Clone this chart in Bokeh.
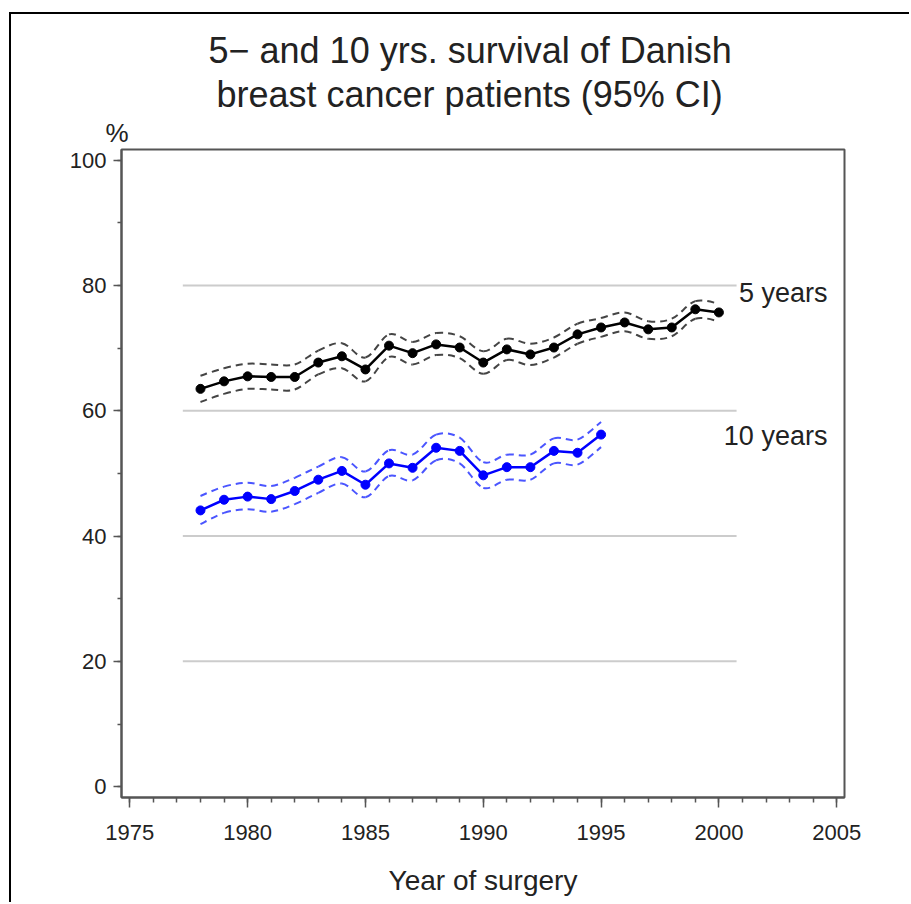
from bokeh.plotting import figure
from bokeh.models import Range1d, Label, FixedTicker, Title, ColumnDataSource
from bokeh.embed import file_html
from bokeh.resources import INLINE

FONT = "Liberation Sans"

# ---- data ----
years5 = list(range(1978, 2001))
surv5 = [63.5, 64.7, 65.5, 65.4, 65.4, 67.7, 68.7, 66.6, 70.4, 69.2, 70.6, 70.1,
         67.7, 69.8, 69.0, 70.1, 72.2, 73.3, 74.1, 73.0, 73.3, 76.2, 75.7]
upper5 = [65.6, 66.8, 67.5, 67.4, 67.4, 69.6, 70.8, 68.5, 72.2, 71.0, 72.4, 71.9,
          69.5, 71.5, 70.7, 71.7, 73.9, 74.8, 75.7, 74.3, 74.7, 77.5, 77.1]
lower5 = [61.4, 62.7, 63.5, 63.4, 63.4, 65.8, 66.8, 64.7, 68.6, 67.4, 68.9, 68.4,
          65.9, 68.1, 67.3, 68.5, 70.7, 71.8, 72.7, 71.5, 71.9, 74.7, 74.3]

years10 = list(range(1978, 1996))
surv10 = [44.1, 45.8, 46.3, 45.9, 47.2, 49.0, 50.4, 48.2, 51.6, 50.9, 54.1, 53.6,
          49.7, 51.0, 51.0, 53.6, 53.3, 56.2]
upper10 = [46.4, 47.9, 48.5, 48.0, 49.3, 51.1, 52.6, 50.3, 53.7, 53.0, 56.2, 55.7,
           51.8, 53.0, 53.0, 55.6, 55.4, 58.2]
lower10 = [41.9, 43.7, 44.3, 43.9, 45.1, 46.9, 48.4, 46.2, 49.6, 48.9, 52.1, 51.6,
           47.7, 49.0, 49.0, 51.6, 51.4, 54.2]

ref_levels = [20, 40, 60, 80]
ref_start = 1977.25
ref_end = 2000.75

x_ticks = [1975, 1980, 1985, 1990, 1995, 2000, 2005]
y_ticks = [0, 20, 40, 60, 80, 100]

title_lines = ["5\u2212 and 10 yrs. survival of Danish", "breast cancer patients (95% CI)"]
series_labels = ["5 years", "10 years"]


def smooth_segments(xs, ys):
    """Catmull-Rom curve through the points, as cubic Bezier segments."""
    n = len(xs)
    x0, y0, x1, y1, cx0, cy0, cx1, cy1 = ([] for _ in range(8))
    for i in range(n - 1):
        im, ip = max(i - 1, 0), min(i + 2, n - 1)
        x0.append(xs[i]); y0.append(ys[i])
        x1.append(xs[i + 1]); y1.append(ys[i + 1])
        cx0.append(xs[i] + (xs[i + 1] - xs[im]) / 6)
        cy0.append(ys[i] + (ys[i + 1] - ys[im]) / 6)
        cx1.append(xs[i + 1] - (xs[ip] - xs[i]) / 6)
        cy1.append(ys[i + 1] - (ys[ip] - ys[i]) / 6)
    return ColumnDataSource(dict(x0=x0, y0=y0, x1=x1, y1=y1,
                                 cx0=cx0, cy0=cy0, cx1=cx1, cy1=cy1))


# ---- figure ----
p = figure(width=900, height=890, output_backend="svg", toolbar_location=None,
           x_range=Range1d(1974.648, 2005.33), y_range=Range1d(-1.73, 101.71),
           min_border_left=110, min_border_top=135, min_border_right=67,
           min_border_bottom=107)
p.styles = {"margin-left": "9px", "margin-top": "12px",
            "border-left": "2px solid black", "border-top": "2px solid black"}
p.title.visible = False

p.xgrid.visible = False
p.ygrid.visible = False
p.outline_line_color = "#555555"
p.outline_line_width = 2

# reference lines
p.segment(x0=[ref_start] * len(ref_levels), x1=[ref_end] * len(ref_levels),
          y0=ref_levels, y1=ref_levels, line_color="#cccccc", line_width=2)

# 5-year
for band in (upper5, lower5):
    p.bezier("x0", "y0", "x1", "y1", "cx0", "cy0", "cx1", "cy1",
             source=smooth_segments(years5, band),
             line_color="#444444", line_width=2, line_dash="7 5")
p.line(years5, surv5, line_color="black", line_width=2.5)
p.scatter(years5, surv5, size=9, color="black")

# 10-year
for band in (upper10, lower10):
    p.bezier("x0", "y0", "x1", "y1", "cx0", "cy0", "cx1", "cy1",
             source=smooth_segments(years10, band),
             line_color="#4a55ff", line_width=2, line_dash="7 5")
p.line(years10, surv10, line_color="#0000ff", line_width=2.5)
p.scatter(years10, surv10, size=9, color="#0000ff")

# axes
for ax in (p.xaxis[0], p.yaxis[0]):
    ax.axis_line_color = "#555555"
    ax.axis_line_width = 2
    ax.major_tick_line_color = "#555555"
    ax.minor_tick_line_color = "#555555"
    ax.major_tick_line_width = 1.5
    ax.minor_tick_line_width = 1.5
    ax.major_label_text_font = FONT
    ax.major_label_text_font_size = "22px"
    ax.major_label_text_color = "#222222"
    ax.major_tick_in = 0
    ax.minor_tick_in = 0

p.xaxis.ticker = FixedTicker(ticks=x_ticks, minor_ticks=list(range(1975, 2006)))
p.yaxis.ticker = FixedTicker(ticks=y_ticks, minor_ticks=list(range(0, 101, 10)))
p.xaxis.major_tick_out = 10
p.xaxis.minor_tick_out = 5
p.yaxis.major_tick_out = 8
p.yaxis.minor_tick_out = 4
p.xaxis.major_label_standoff = 17
p.yaxis.major_label_standoff = 7

p.xaxis.axis_label = "Year of surgery"
p.xaxis.axis_label_text_font = FONT
p.xaxis.axis_label_text_font_size = "28px"
p.xaxis.axis_label_text_font_style = "normal"
p.xaxis.axis_label_text_color = "#222222"
p.xaxis.axis_label_standoff = 22

# titles (added nearest-first: later ones sit further from the frame)
p.add_layout(Title(text="%", align="left", offset=-16, standoff=3,
                   text_font=FONT, text_font_size="26px",
                   text_font_style="normal", text_color="#222222"), "above")
p.add_layout(Title(text=title_lines[1], align="left", offset=95, standoff=0,
                   text_font=FONT, text_font_size="36px",
                   text_font_style="normal", text_color="#222222"), "above")
p.add_layout(Title(text=title_lines[0], align="left", offset=87, standoff=2,
                   text_font=FONT, text_font_size="36px",
                   text_font_style="normal", text_color="#222222"), "above")

p.add_layout(Label(x=2000.85, y=78.74, text=series_labels[0], text_align="left",
                   text_baseline="middle", text_font=FONT,
                   text_font_size="27px", text_color="#222222"))
p.add_layout(Label(x=2000.21, y=56.05, text=series_labels[1], text_align="left",
                   text_baseline="middle", text_font=FONT,
                   text_font_size="27px", text_color="#222222"))

open("out.html", "w").write(file_html(p, INLINE))
